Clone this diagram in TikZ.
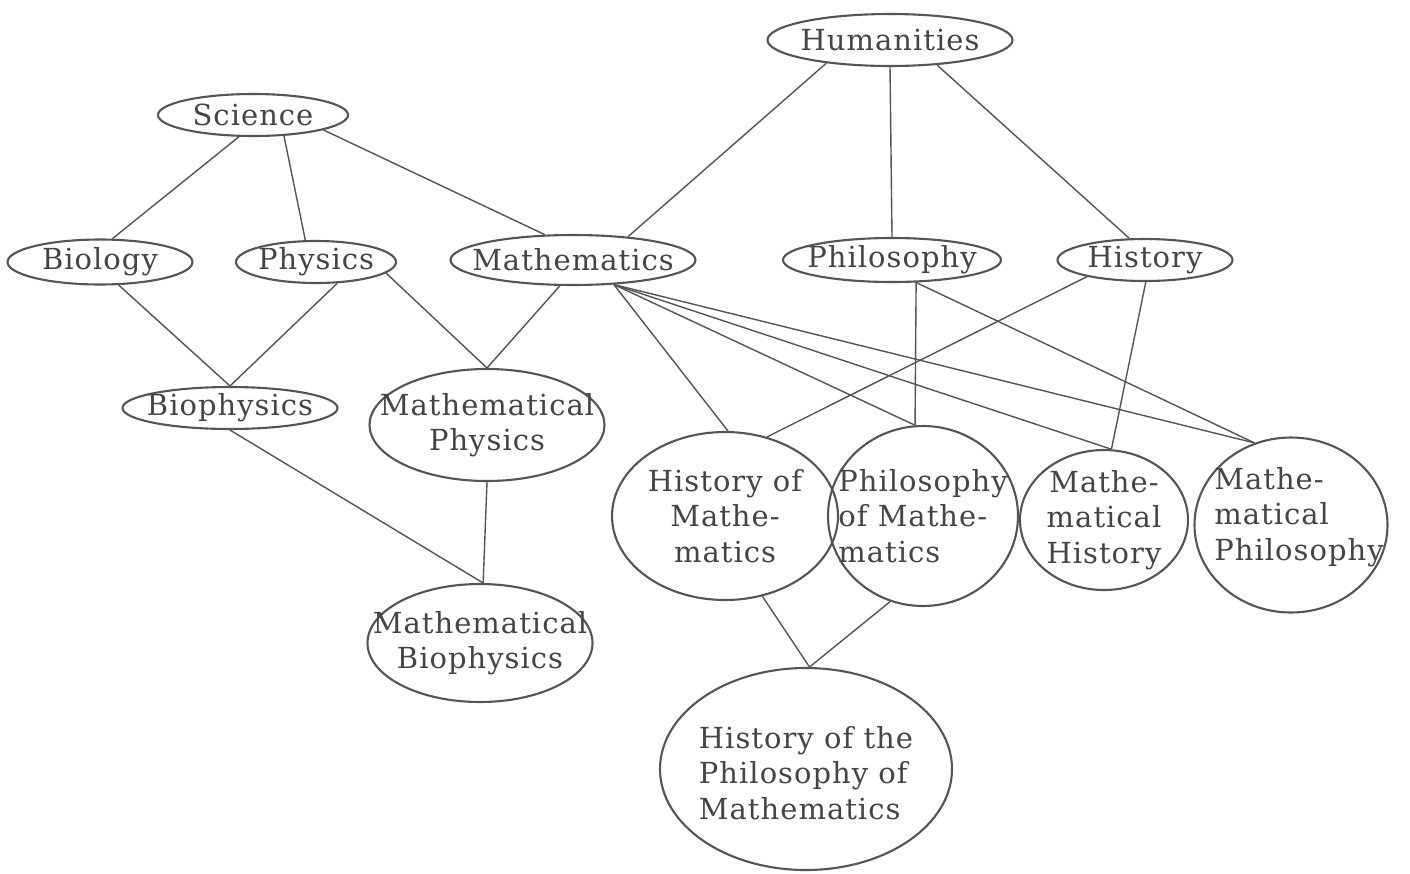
\documentclass[tikz,border=0pt]{standalone}
\usepackage{fontspec}
\setmainfont[LetterSpace=3.5]{DejaVu Serif}
\usetikzlibrary{shapes.geometric}
\definecolor{ink}{HTML}{555555}
\definecolor{txtc}{HTML}{454545}
\begin{document}
\begin{tikzpicture}[x=1pt,y=-1pt,
  oval/.style={ellipse, draw=ink, line width=2.1pt, inner sep=0pt},
  link/.style={draw=ink, line width=1.4pt},
  lbl/.style={font=\fontsize{29}{35.5}\selectfont, text=txtc, inner sep=0pt}]
\useasboundingbox (0,0) rectangle (1410,873);
\fill[white] (0,0) rectangle (1410,873);
% top row
\node[oval, minimum width=245pt, minimum height=52pt, label={[lbl]center:Humanities}] (hum) at (890,40) {};
\node[oval, minimum width=190pt, minimum height=42pt, label={[lbl]center:Science}] (sci) at (253,115) {};
% second row
\node[oval, minimum width=185pt, minimum height=45pt, label={[lbl]center:Biology}] (bio) at (100,262) {};
\node[oval, minimum width=160pt, minimum height=42pt, label={[lbl]center:Physics}] (phy) at (316,262) {};
\node[oval, minimum width=245pt, minimum height=50pt, label={[lbl]center:Mathematics}] (mat) at (573,260) {};
\node[oval, minimum width=218pt, minimum height=44pt, label={[lbl]center:Philosophy}] (phi) at (892,260) {};
\node[oval, minimum width=175pt, minimum height=42pt, label={[lbl]center:History}] (his) at (1145,260) {};
% third row
\node[oval, minimum width=215pt, minimum height=42pt, label={[lbl]center:Biophysics}] (bph) at (230,408) {};
\node[oval, minimum width=235pt, minimum height=112pt, label={[lbl,align=center]center:{Mathematical\\Physics}}] (mph) at (487,425) {};
\node[oval, minimum width=226pt, minimum height=168pt, label={[lbl,align=center]center:{History of\\Mathe-\\matics}}] (hom) at (725,516) {};
\node[oval, minimum width=190pt, minimum height=180pt, label={[lbl,align=left]center:{Philosophy\\of Mathe-\\matics}}] (pom) at (923,516) {};
\node[oval, minimum width=168pt, minimum height=140pt, label={[lbl,align=center]center:{Mathe-\\matical\\History}}] (mhi) at (1104,520) {};
\node[oval, minimum width=193pt, minimum height=175pt, label={[lbl,align=left,xshift=8pt,yshift=8pt]center:{Mathe-\\matical\\Philosophy}}] (mphi) at (1291,525) {};
% bottom
\node[oval, minimum width=225pt, minimum height=118pt, label={[lbl,align=center]center:{Mathematical\\Biophysics}}] (mbp) at (480,643) {};
\node[oval, minimum width=292pt, minimum height=202pt, label={[lbl,align=left,yshift=-4pt]center:{History of the\\Philosophy of\\Mathematics}}] (hpm) at (806,769) {};
% connectors
\draw[link] (hum.200) -- (mat.23);
\draw[link] (hum.south) -- (phi.north);
\draw[link] (hum.-28) -- (his.126);
\draw[link] (sci.237) -- (bio.62);
\draw[link] (sci.-34) -- (phy.116);
\draw[link] (sci.-12.5) -- (mat.138);
\draw[link] (bio.-51) -- (bph.north);
\draw[link] (phy.-45) -- (bph.north);
\draw[link] (phy.-9) -- (mph.north);
\draw[link] (mat.243) -- (mph.north);
\draw[link] (bph.south) -- (mbp.87);
\draw[link] (mph.south) -- (mbp.87);
\draw[link] (mat.-31) -- (hom.88);
\draw[link] (mat.-31) -- (pom.95);
\draw[link] (mat.-31) -- (mhi.84);
\draw[link] (mat.-31) -- (mphi.114);
\draw[link] (phi.-43) -- (pom.95);
\draw[link] (phi.-43) -- (mphi.114);
\draw[link] (his.196.5) -- (hom.62);
\draw[link] (his.272) -- (mhi.84);
\draw[link] (hom.-65) -- (hpm.88);
\draw[link] (pom.249) -- (hpm.88);
\end{tikzpicture}
\end{document}
